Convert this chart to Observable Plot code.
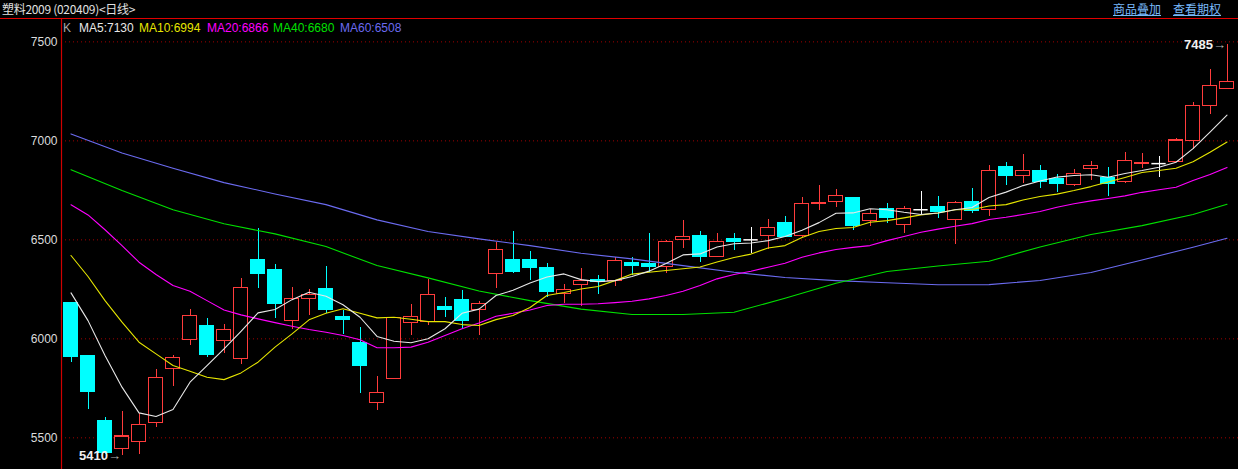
<!DOCTYPE html>
<html><head><meta charset="utf-8">
<script src="https://cdn.jsdelivr.net/npm/d3@7"></script>
<script src="https://cdn.jsdelivr.net/npm/@observablehq/plot@0.6"></script>
<style>
html,body{margin:0;padding:0;background:#000;width:1238px;height:469px;overflow:hidden;}
#hdr{position:relative;height:18px;border-bottom:1px solid #e00000;font:12px "Noto Sans CJK SC",sans-serif;color:#e0e0e0;}
#title{position:absolute;left:2px;top:0px;line-height:17px;white-space:nowrap;letter-spacing:-0.3px;}
.lnk{position:absolute;top:0px;line-height:17px;color:#78b8f8;text-decoration:underline;white-space:nowrap;}
#wrap{position:relative;width:1238px;height:450px;}
#legend{position:absolute;top:2px;left:0;font:12px "Liberation Sans",Arial,sans-serif;line-height:14px;}
#legend span{position:absolute;white-space:nowrap;}
</style></head>
<body>
<div id="hdr"><span id="title">塑料2009 (020409)&lt;日线&gt;</span><span class="lnk" style="left:1113px">商品叠加</span><span class="lnk" style="left:1173px">查看期权</span></div>
<div id="wrap"><div id="chart"></div><div id="legend"></div></div>
<script>
// ---- data ----
const openP  = [6183,5911,5587,5444,5478,5574,5848,5993,6067,5990,5899,6400,6350,6091,6200,6254,6108,5981,5677,5798,6081,6087,6160,6197,6146,6328,6400,6400,6360,6227,6273,6296,6291,6385,6380,6364,6500,6517,6414,6502,6500,6520,6587,6518,6682,6692,6709,6594,6657,6576,6652,6667,6601,6693,6649,6870,6823,6850,6806,6776,6859,6811,6791,6882,6885,6894,7000,7175,7261];
const highP  = [6183,5911,5602,5633,5624,5845,5916,6146,6101,6071,6303,6556,6375,6259,6247,6365,6143,6057,5810,6104,6173,6299,6207,6244,6188,6488,6542,6441,6380,6274,6355,6320,6412,6412,6532,6496,6597,6542,6532,6532,6562,6603,6618,6714,6774,6754,6714,6651,6683,6668,6744,6719,6692,6759,6875,6890,6929,6874,6828,6855,6895,6865,6941,6934,6919,7010,7193,7360,7485];
const lowP   = [5879,5644,5418,5410,5414,5554,5761,5966,5907,5924,5869,6256,6104,6045,6118,6126,6022,5725,5638,5798,6017,6069,6109,6051,6017,6256,6331,6294,6210,6180,6163,6224,6264,6321,6336,6328,6458,6387,6414,6447,6431,6449,6513,6512,6649,6665,6547,6569,6584,6533,6621,6609,6478,6634,6619,6776,6786,6758,6737,6771,6801,6719,6783,6862,6816,6894,6958,7134,7261];
const closeP = [5907,5730,5421,5507,5566,5803,5904,6116,5917,6045,6258,6326,6175,6202,6222,6144,6094,5862,5727,6104,6111,6222,6145,6089,6177,6449,6336,6357,6235,6247,6293,6285,6394,6367,6362,6491,6515,6412,6490,6488,6500,6561,6513,6682,6688,6722,6569,6631,6609,6657,6652,6643,6687,6644,6848,6821,6848,6791,6781,6833,6874,6781,6899,6888,6885,7002,7177,7278,7298];

const ma5  = [6232,6092,5916,5756,5626,5608,5643,5781,5865,5949,6038,6131,6148,6198,6235,6215,6172,6109,6012,5988,5980,6000,6051,6129,6150,6219,6245,6282,6312,6328,6299,6289,6294,6315,6342,6380,6424,6429,6464,6480,6484,6496,6517,6549,6587,6634,6636,6657,6652,6639,6628,6636,6652,6663,6714,6741,6774,6797,6817,6825,6829,6816,6835,6850,6867,6892,6961,7044,7130];
const ma10 = [6421,6315,6193,6084,5983,5924,5865,5836,5806,5794,5828,5882,5958,6025,6096,6129,6152,6129,6106,6109,6099,6087,6087,6072,6067,6097,6118,6158,6219,6234,6252,6264,6294,6327,6336,6345,6354,6363,6388,6411,6428,6459,6471,6512,6542,6557,6562,6589,6597,6611,6626,6636,6652,6653,6671,6678,6701,6719,6731,6749,6769,6792,6815,6840,6850,6862,6895,6942,6994];
const ma20 = [6677,6626,6551,6471,6387,6325,6269,6240,6193,6146,6121,6101,6082,6064,6047,6033,6017,5995,5955,5955,5958,5983,6017,6051,6080,6114,6129,6146,6168,6175,6175,6177,6183,6190,6202,6219,6240,6269,6303,6325,6341,6362,6382,6412,6434,6451,6462,6471,6496,6517,6538,6554,6569,6582,6603,6614,6628,6643,6665,6682,6697,6709,6722,6740,6753,6766,6800,6830,6866];
const maSparseIdx = [0,3,6,9,12,15,18,21,24,27,30,33,36,39,42,45,48,51,54,57,60,63,66,68];
const ma40 = [6854,6749,6652,6581,6530,6466,6370,6308,6242,6193,6150,6123,6123,6134,6205,6281,6340,6368,6392,6464,6527,6572,6628,6680];
const ma60 = [7035,6939,6862,6789,6732,6678,6601,6542,6505,6471,6432,6404,6370,6336,6310,6294,6283,6273,6274,6295,6335,6398,6463,6508];

const yTicks = [5500,6000,6500,7000,7500];
const maNames  = ["MA5","MA10","MA20","MA40","MA60"];
const maColors = ["#e8e8e8","#e6e600","#ff00ff","#00e000","#6b6bf0"];

// ---- build tables ----
const candles = openP.map((o,i)=>({i, open:o, high:highP[i], low:lowP[i], close:closeP[i],
  top:Math.max(o,closeP[i]), bot:Math.min(o,closeP[i])}));
const colorOf = d => d.close > d.open ? "#ff3c3c" : d.close < d.open ? "#00ffff" : "#ffffff";
const up = candles.filter(d=>d.close>d.open);
const down = candles.filter(d=>d.close<d.open);
const flat = candles.filter(d=>d.close===d.open);
const fullSeries = [ma5, ma10, ma20].map((arr)=>arr.map((v,i)=>({i, v})));
const sparseSeries = [ma40, ma60].map(arr=>arr.map((v,k)=>({i:maSparseIdx[k], v})));
const series = [...fullSeries, ...sparseSeries];

const hiIdx = d3.maxIndex(highP), loIdx = d3.minIndex(lowP);
const extremes = [{i:hiIdx, y:highP[hiIdx], t:String(highP[hiIdx])},{i:loIdx, y:lowP[loIdx], t:String(lowP[loIdx])}];

const xDomain = [-0.559, 68.676];
const HW = 0.42;

const chart = Plot.plot({
  width:1238, height:450,
  marginLeft:61, marginRight:0, marginTop:0, marginBottom:0,
  style:{background:"#000", color:"#dcdcdc", fontFamily:"'Liberation Sans',Arial,sans-serif", fontSize:"12px"},
  x:{domain:xDomain, axis:null},
  y:{domain:[5340,7613], ticks:5, tickSize:0, tickPadding:4, label:null, tickFormat:d3.format("d")},
  marks:[
    Plot.ruleY(yTicks, {stroke:"#a00000", strokeDasharray:"1,3"}),
    Plot.ruleX([xDomain[0]], {stroke:"#d00000", strokeWidth:1.2}),
    // wicks
    Plot.ruleX(candles, {x:"i", y1:"high", y2:"top", stroke:colorOf, shapeRendering:"crispEdges"}),
    Plot.ruleX(candles, {x:"i", y1:"bot", y2:"low", stroke:colorOf, shapeRendering:"crispEdges"}),
    // bodies
    Plot.rect(down, {x1:d=>d.i-HW, x2:d=>d.i+HW, y1:"open", y2:"close", fill:"#00ffff", stroke:"#00ffff", shapeRendering:"crispEdges"}),
    Plot.rect(up, {x1:d=>d.i-HW+0.03, x2:d=>d.i+HW-0.03, y1:"open", y2:"close", fill:"#000", stroke:"#ff3c3c", strokeWidth:1.2, shapeRendering:"crispEdges"}),
    Plot.ruleY(flat, {x1:d=>d.i-HW, x2:d=>d.i+HW, y:"open", stroke:"#ffffff", strokeWidth:1.5}),
    // moving averages
    ...series.slice().reverse().map((s,k)=>Plot.line(s, {x:"i", y:"v", stroke:maColors[4-k], strokeWidth:1.1})),
    // extreme annotations
    Plot.text(extremes, {x:"i", y:"y", text:"t", textAnchor:"end", dx:-14, fill:"#f0f0f0", fontSize:13, fontWeight:"bold", lineAnchor:"middle"}),
    Plot.text(extremes, {x:"i", y:"y", text:()=>"→", textAnchor:"end", dx:-1, fill:"#b0b0b0", fontSize:13, lineAnchor:"middle"})
  ]
});
document.getElementById("chart").appendChild(chart);

// legend
const legend = document.getElementById("legend");
const legendX = [63, 79, 139, 207, 273, 340];
const items = [{t:"K", c:"#a8a8a8"}, ...maNames.map((n,k)=>({t:n+":"+[ma5,ma10,ma20,ma40,ma60][k].at(-1), c:maColors[k]}))];
items.forEach((it,k)=>{const s=document.createElement("span"); s.textContent=it.t; s.style.color=it.c; s.style.left=legendX[k]+"px"; legend.appendChild(s);});
</script>
</body></html>
